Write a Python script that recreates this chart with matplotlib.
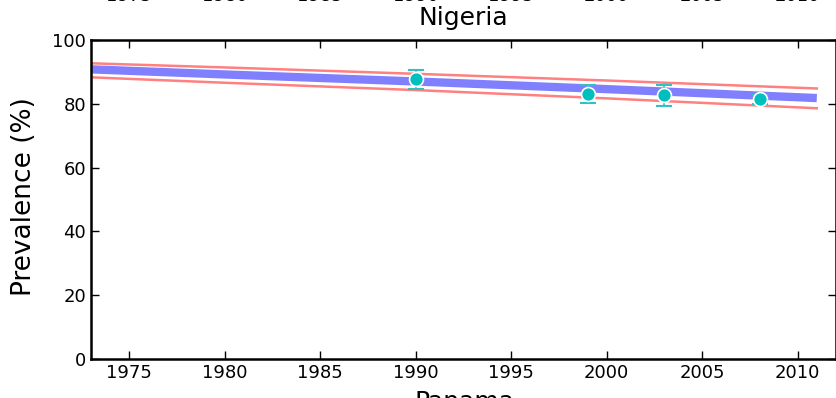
import numpy as np
import matplotlib.pyplot as plt
import matplotlib.transforms as mtransforms

# model fit (mean and uncertainty bounds)
fit_years = [1973, 1980, 1990, 2000, 2011]
fit_mean = [90.8, 89.2, 87.0, 84.6, 81.8]
fit_upper = [92.7, 91.4, 89.4, 87.3, 84.8]
fit_lower = [88.3, 86.6, 84.3, 81.7, 78.6]

# survey data points with error bars
obs_years = [1990, 1999, 2003, 2008]
obs_value = [87.8, 83.1, 82.8, 81.4]
obs_low = [84.6, 80.3, 79.4, 80.0]
obs_high = [90.6, 85.9, 85.8, 82.8]

xticks = [1975, 1980, 1985, 1990, 1995, 2000, 2005, 2010]
yticks = [0, 20, 40, 60, 80, 100]

fig = plt.figure(figsize=(8.37, 3.98), dpi=100)
ax = fig.add_axes([0.1087, 0.098, 0.89, 0.8015])

ax.plot(fit_years, fit_mean, color='#8080ff', lw=6, solid_capstyle='butt', zorder=2)
ax.plot(fit_years, fit_upper, color='#ff8080', lw=1.8, zorder=2)
ax.plot(fit_years, fit_lower, color='#ff8080', lw=1.8, zorder=2)

yerr = [np.array(obs_value) - np.array(obs_low), np.array(obs_high) - np.array(obs_value)]
ax.errorbar(obs_years, obs_value, yerr=yerr, fmt='none', ecolor='#33c0c0',
            elinewidth=1.2, capsize=6, capthick=1.5, zorder=3)
ax.plot(obs_years, obs_value, 'o', color='#00bfbf', ms=10, mec='white', mew=1.2, zorder=4)

ax.set_xlim(1973, 2012)
ax.set_ylim(0, 100)
ax.set_xticks(xticks)
ax.set_yticks(yticks)
ax.tick_params(direction='in', length=6, width=1, top=True, right=True, labelsize=13)
for s in ax.spines.values():
    s.set_linewidth(1.8)
ax.set_ylabel('Prevalence (%)', fontsize=19)
ax.yaxis.set_label_coords(-0.072, 0.51)
ax.set_title('Nigeria', fontsize=18, pad=11)

# bits of the neighbouring panels that are cut off by the crop
tr_top = mtransforms.blended_transform_factory(ax.transData, fig.transFigure)
for yr in xticks:
    fig.text(yr, 1 - 1.2 / 398, str(yr), transform=tr_top, ha='center', va='baseline', fontsize=13)
fig.text(0.555, 8 / 398, 'Panama', ha='center', va='top', fontsize=18)

fig.savefig('out.png', dpi=100)
